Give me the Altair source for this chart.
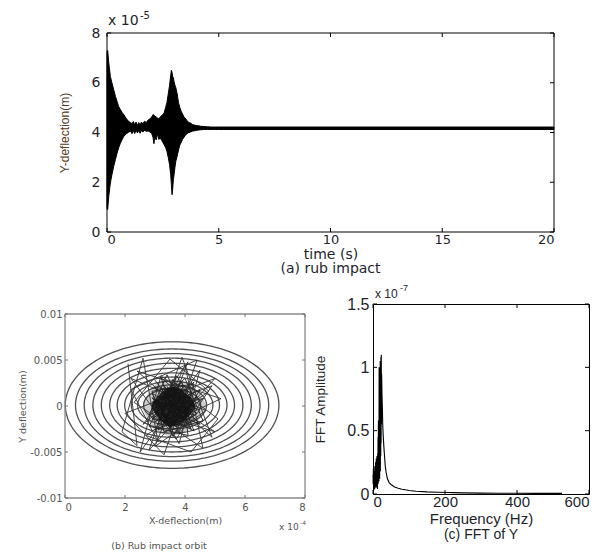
import altair as alt
import numpy as np
import pandas as pd

FONT = "Liberation Sans"
WIDE = "DejaVu Sans"

# ---------------- Panel (a): Y deflection vs time (envelope of dense oscillation, x1e-5 m)
t_env = [0.00, 0.03, 0.08, 0.15, 0.22, 0.30, 0.38, 0.45, 0.52, 0.60, 0.68, 0.75, 0.85, 0.95,
         1.05, 1.12, 1.18, 1.24, 1.30, 1.36, 1.42, 1.48, 1.54, 1.60, 1.68, 1.76, 1.84, 1.92,
         2.00, 2.06, 2.10, 2.14, 2.20, 2.26, 2.32, 2.38, 2.44, 2.50, 2.56, 2.62, 2.68, 2.74,
         2.80, 2.85, 2.88, 2.91, 2.94, 2.97, 3.00, 3.04, 3.08, 3.14, 3.20, 3.26, 3.32, 3.38,
         3.44, 3.50, 3.58, 3.66, 3.74, 3.82, 3.90, 4.00, 4.10, 4.20, 4.35, 4.50, 4.65, 4.80,
         5.00, 20.0]
y_upper = [7.25, 7.30, 6.80, 6.25, 6.00, 5.72, 5.45, 5.25, 5.05, 4.92, 4.80, 4.72, 4.58, 4.46,
           4.40, 4.36, 4.44, 4.30, 4.42, 4.28, 4.40, 4.30, 4.42, 4.35, 4.45, 4.40, 4.50, 4.55,
           4.62, 4.72, 4.70, 4.66, 4.62, 4.58, 4.55, 4.62, 4.68, 4.72, 4.80, 5.00, 5.20, 5.55,
           5.90, 6.30, 6.50, 6.42, 6.25, 6.20, 6.05, 5.90, 5.80, 5.55, 5.20, 5.00, 4.85, 4.75,
           4.62, 4.58, 4.48, 4.40, 4.38, 4.32, 4.30, 4.28, 4.27, 4.25, 4.24, 4.23, 4.22, 4.22,
           4.22, 4.22]
y_lower = [0.95, 0.90, 1.45, 1.97, 2.30, 2.64, 2.92, 3.17, 3.38, 3.57, 3.72, 3.84, 3.94, 4.00,
           4.06, 3.95, 4.08, 3.96, 4.10, 3.98, 4.08, 3.97, 4.08, 4.02, 4.08, 4.05, 4.06, 4.02,
           3.96, 3.80, 3.55, 3.85, 3.70, 3.95, 3.72, 3.78, 3.70, 3.60, 3.50, 3.40, 3.25, 3.00,
           2.70, 2.30, 1.90, 1.50, 1.75, 2.10, 2.30, 2.60, 2.85, 3.05, 3.30, 3.50, 3.60, 3.72,
           3.80, 3.88, 3.95, 4.00, 4.02, 4.05, 4.07, 4.08, 4.10, 4.11, 4.12, 4.12, 4.12, 4.12,
           4.12, 4.12]
a_xticks = [0, 5, 10, 15, 20]
a_yticks = [0, 2, 4, 6, 8]

# ---------------- Panel (b): orbit (X in 1e-4 m, Y in 1e-3 m)
ring_cx = 3.57
ring_cy = 0.10
ring_a = [3.56, 3.22, 2.93, 2.64, 2.36, 2.08, 1.83, 1.58, 1.36, 1.15, 0.95]
ring_b = [6.88, 6.10, 5.60, 5.10, 4.55, 4.00, 3.50, 3.05, 2.60, 2.20, 1.80]
scrib_outer_x = [2.1, 2.4, 1.9, 2.6, 3.1, 2.2, 4.4, 3.3, 2.0, 5.0, 2.8, 3.9, 4.9, 2.4, 5.2, 3.0,
                 4.0, 4.6, 2.3, 3.5, 4.8, 2.7, 4.2, 5.1, 3.2, 2.5, 4.5, 3.8, 2.9, 5.0, 3.4, 4.3,
                 2.6, 4.1, 3.0, 4.7, 2.2, 3.7, 4.9, 3.3]
scrib_outer_y = [4.6, -4.3, -2.8, 5.2, -3.9, 1.8, 5.0, -5.3, -0.8, 3.0, -4.8, 5.3, -3.4, 3.8, 0.8,
                 -2.6, 4.4, -4.6, 0.4, 5.1, 1.6, -3.2, -5.0, -1.4, 3.3, -5.0, 3.9, -4.1, 1.4, -2.8,
                 -1.2, 2.6, -2.0, 4.8, -4.4, -0.5, 3.0, -3.6, 2.2, 0.2]
scrib_inner_x = [3.0, 4.2, 3.4, 2.8, 4.5, 3.6, 3.1, 4.0, 4.6, 3.3, 2.9, 4.3, 3.8, 3.2, 4.4, 3.5,
                 2.8, 4.1, 3.9, 3.0, 4.6, 3.4, 3.7, 4.2, 3.1, 4.0, 3.3, 4.5, 2.9, 3.8, 4.3, 3.2,
                 3.6, 4.1, 3.0, 4.4, 3.5, 3.9, 3.3, 4.2]
scrib_inner_y = [2.8, -2.5, 3.4, -1.0, 1.8, -3.3, 0.5, 3.0, -1.6, -2.8, 1.6, 2.4, -3.0, 3.1, -0.4,
                 2.0, -2.2, -3.2, 2.6, -0.2, 0.8, -1.8, 3.3, 1.2, -2.6, -1.0, 2.2, -2.0, 0.4, 1.5,
                 -2.7, -0.9, 2.9, 0.3, -1.7, 1.0, -2.4, 1.9, 0.9, -0.6]
scrib_mid_x = [3.2, 4.0, 3.0, 3.9, 4.3, 3.1, 3.6, 4.2, 2.9, 3.7, 4.4, 3.3, 3.8, 3.0, 4.1, 3.5,
               3.2, 4.3, 3.4, 3.9, 2.9, 4.0, 3.6, 3.1, 4.2, 3.5, 3.8, 3.3, 4.1, 3.0]
scrib_mid_y = [1.9, -1.5, -0.6, 2.2, 0.4, -2.0, 2.4, -1.9, 0.9, -2.3, -0.8, 1.4, -1.2, 2.0, 1.6,
               -2.5, 0.2, -1.0, 2.1, 0.7, -1.4, -2.2, 1.2, 1.0, 0.9, -0.9, 2.3, -1.8, -0.3, 0.5]
halo_x = [2.6, 2.8, 3.0, 3.3, 3.6, 3.9, 4.2, 4.5, 4.7]
halo_top = [0.3, 1.6, 2.4, 2.9, 3.0, 2.8, 2.2, 1.4, 0.2]
halo_bot = [-0.4, -1.8, -2.7, -3.2, -3.3, -3.0, -2.5, -1.5, -0.3]
blob_x = [2.9, 3.05, 3.2, 3.35, 3.5, 3.65, 3.8, 3.95, 4.1, 4.25, 4.35]
blob_top = [0.2, 0.9, 1.5, 1.8, 2.0, 2.1, 1.9, 1.6, 1.2, 0.6, 0.1]
blob_bot = [-0.3, -1.1, -1.6, -2.0, -2.3, -2.2, -2.0, -1.7, -1.2, -0.7, -0.2]
b_xticks = [0, 2, 4, 6, 8]
b_yticks = [-0.01, -0.005, 0, 0.005, 0.01]

# ---------------- Panel (c): FFT of Y (x1e-7)
fft_f = [0, 0.5, 1, 1.5, 2, 2.5, 3, 3.5, 4, 4.5, 5, 5.5, 6, 6.5, 7, 7.5, 8, 8.5, 9, 9.5, 10,
         10.5, 11, 11.5, 12, 12.5, 13, 13.5, 14, 14.5, 15, 15.5, 16, 16.5, 17, 17.5, 18, 18.5,
         19, 19.5, 20, 20.5, 21, 21.5, 22, 22.5, 23, 23.5, 24, 25, 26, 27, 28, 30, 32, 34, 37,
         40, 45, 50, 55, 60, 70, 80, 90, 100, 120, 150, 180, 210, 222, 250, 300, 350, 400, 450,
         500, 525]
fft_amp = [0.15, 0.08, 0.20, 0.05, 0.12, 0.03, 0.18, 0.06, 0.14, 0.04, 0.22, 0.07, 0.16, 0.05,
           0.25, 0.08, 0.18, 0.06, 0.28, 0.10, 0.22, 0.05, 0.30, 0.12, 0.20, 0.04, 0.32, 0.10,
           0.45, 0.08, 0.58, 0.15, 0.50, 0.10, 1.00, 0.20, 0.75, 0.12, 0.95, 0.25, 1.05, 0.18,
           0.90, 0.30, 1.08, 0.40, 1.10, 0.55, 0.95, 0.78, 0.68, 0.55, 0.48, 0.38, 0.30, 0.22,
           0.16, 0.12, 0.09, 0.075, 0.065, 0.055, 0.045, 0.038, 0.033, 0.028, 0.022, 0.017,
           0.014, 0.012, 0.011, 0.009, 0.007, 0.006, 0.006, 0.005, 0.005, 0.005]
c_xticks = [0, 200, 400, 600]
c_yticks = [0, 0.5, 1, 1.5]

LBL = "#231f2c"
GRY = "#555555"
LEXPR = "'' + datum.value"
one = pd.DataFrame({"k": [0]})


def frame(x0, x1, y0, y1, color, w):
    dv = pd.DataFrame({"x": [x0, x1], "y": [y0, y0], "y2": [y1, y1]})
    dh = pd.DataFrame({"y": [y0, y1], "x": [x0, x0], "x2": [x1, x1]})
    return [
        alt.Chart(dv).mark_rule(color=color, strokeWidth=w).encode(x="x:Q", y="y:Q", y2="y2:Q"),
        alt.Chart(dh).mark_rule(color=color, strokeWidth=w).encode(y="y:Q", x="x:Q", x2="x2:Q"),
    ]


def inner_ticks(xt, yt, xl, xr, yb, yt_px, color, L=4):
    dx = pd.DataFrame({"x": xt})
    dy = pd.DataFrame({"y": yt})
    return [
        alt.Chart(dx).mark_rule(color=color).encode(x="x:Q", y=alt.value(yb), y2=alt.value(yb - L)),
        alt.Chart(dx).mark_rule(color=color).encode(x="x:Q", y=alt.value(yt_px), y2=alt.value(yt_px + L)),
        alt.Chart(dy).mark_rule(color=color).encode(y="y:Q", x=alt.value(xl), x2=alt.value(xl + L)),
        alt.Chart(dy).mark_rule(color=color).encode(y="y:Q", x=alt.value(xr - L), x2=alt.value(xr)),
    ]


def txt(s, x, y, size, color, font=FONT):
    return alt.Chart(one).mark_text(text=s, font=font, fontSize=size, color=color, align="left",
                                    baseline="alphabetic").encode(x=alt.value(x), y=alt.value(y))


# ---- Panel A (group starts at the left edge of panel b; plot region is shifted right)
WA, HA, XA0 = 489, 199, 42
dfa = pd.DataFrame({"x": t_env, "y": y_lower, "y2": y_upper})
a_main = alt.Chart(dfa).mark_area(color="black", stroke="black", strokeWidth=1).encode(
    x=alt.X("x:Q", scale=alt.Scale(domain=[0, 20], range=[XA0, WA], nice=False),
            axis=alt.Axis(values=a_xticks, title="time (s)", ticks=False, domain=False, grid=False,
                          labelFontSize=13, labelColor=LBL, labelFont=WIDE, labelPadding=1,
                          titleFont=WIDE, titleFontSize=14, titleFontWeight="normal", titleColor=LBL,
                          titlePadding=1, titleX=XA0 + (WA - XA0) / 2, labelExpr=LEXPR)),
    y=alt.Y("y:Q", scale=alt.Scale(domain=[0, 8], nice=False),
            axis=alt.Axis(values=a_yticks, title="Y-deflection(m)", ticks=False, domain=False, grid=False,
                          offset=-XA0,
                          labelFontSize=14, labelColor=LBL, labelFont=WIDE, labelPadding=7,
                          titleFont=FONT, titleFontSize=12, titleFontWeight="normal", titleColor="#5a3a22",
                          titlePadding=20, labelExpr=LEXPR)),
    y2="y2:Q",
)
A = alt.layer(a_main, *frame(0, 20, 0, 8, "black", 1),
              *inner_ticks(a_xticks, a_yticks, XA0, WA, HA, 0, "black"),
              txt("x 10", XA0 + 1, -8, 14, LBL, WIDE), txt("-5", XA0 + 33, -14, 10, LBL, WIDE)).properties(
    width=WA, height=HA,
    title=alt.TitleParams("(a) rub impact", orient="bottom", font=WIDE, fontSize=14, fontWeight="normal",
                          color=LBL, offset=1, dx=XA0 / 2),
    view=alt.ViewBackground(stroke="transparent"),
)

# ---- Panel B (plot region starts 10 px below the group top)
WB, HB, YB0 = 240, 194, 10
theta = np.linspace(0, 2 * np.pi, 181)
rows = []
for i, (ra, rb) in enumerate(zip(ring_a, ring_b)):
    for j, th in enumerate(theta):
        rows.append({"ring": i, "o": j, "x": ring_cx + ra * np.cos(th), "y": (ring_cy + rb * np.sin(th)) / 1000})
dfr = pd.DataFrame(rows)
xsb = alt.Scale(domain=[0, 8], nice=False)
ysb = alt.Scale(domain=[-0.01, 0.01], range=[HB, YB0], nice=False)
b_rings = alt.Chart(dfr).mark_line(color="#505050", strokeWidth=1.3).encode(
    x=alt.X("x:Q", scale=xsb,
            axis=alt.Axis(values=b_xticks, title="X-deflection(m)", ticks=False, domain=False, grid=False,
                          labelFontSize=10, labelColor=GRY, labelFont=WIDE, labelPadding=4,
                          titleFont=WIDE, titleFontSize=9.5, titleFontWeight="normal", titleColor=GRY,
                          titlePadding=3, labelExpr=LEXPR)),
    y=alt.Y("y:Q", scale=ysb,
            axis=alt.Axis(values=b_yticks, title="Y deflection(m)", ticks=False, domain=False, grid=False,
                          labelFontSize=10, labelColor=GRY, labelFont=WIDE, labelPadding=3,
                          titleFont=WIDE, titleFontSize=9.5, titleFontWeight="normal", titleColor=GRY,
                          titlePadding=2, titleY=YB0 + (HB - YB0) / 2, labelExpr=LEXPR)),
    detail="ring:N", order="o:Q",
)


def scrib(xs, ys, color, w):
    d = pd.DataFrame({"x": xs, "y": [v / 1000 for v in ys], "o": range(len(xs))})
    return alt.Chart(d).mark_line(color=color, strokeWidth=w).encode(x="x:Q", y="y:Q", order="o:Q")


dha = pd.DataFrame({"x": halo_x, "y": [v / 1000 for v in halo_bot], "y2": [v / 1000 for v in halo_top]})
b_halo = alt.Chart(dha).mark_area(color="#222", opacity=0.22, interpolate="basis").encode(x="x:Q", y="y:Q", y2="y2:Q")
dbl = pd.DataFrame({"x": blob_x, "y": [v / 1000 for v in blob_bot], "y2": [v / 1000 for v in blob_top]})
b_blob = alt.Chart(dbl).mark_area(color="#111", opacity=0.88, interpolate="basis").encode(x="x:Q", y="y:Q", y2="y2:Q")
B = alt.layer(b_rings, b_halo, scrib(scrib_outer_x, scrib_outer_y, "#333", 0.9),
              scrib(scrib_inner_x, scrib_inner_y, "#222", 0.9), scrib(scrib_mid_x, scrib_mid_y, "#222", 0.9),
              b_blob, *frame(0, 8, -0.01, 0.01, "#8a8a8a", 1.3),
              *inner_ticks(b_xticks, b_yticks, 0, WB, HB, YB0, "#777", 3),
              txt("x 10", WB - 26, HB + 32, 9, GRY, WIDE), txt("-4", WB - 5, HB + 27, 6, GRY, WIDE)).properties(
    width=WB, height=HB,
    title=alt.TitleParams("(b) Rub impact orbit", orient="bottom", font=WIDE, fontSize=9.5, fontWeight="normal",
                          color=GRY, offset=9, dx=-26),
    view=alt.ViewBackground(stroke="transparent"),
)

# ---- Panel C
WC, HC = 216, 190
dfc = pd.DataFrame({"x": fft_f, "y": fft_amp})
c_main = alt.Chart(dfc).mark_line(color="black", strokeWidth=1.1).encode(
    x=alt.X("x:Q", scale=alt.Scale(domain=[0, 600], nice=False),
            axis=alt.Axis(values=c_xticks, title="Frequency (Hz)", ticks=False, domain=False, grid=False,
                          labelFontSize=15, labelColor=LBL, labelFont=FONT, labelPadding=0,
                          titleFont=FONT, titleFontSize=15, titleFontWeight="normal", titleColor=LBL,
                          titlePadding=2, labelExpr=LEXPR)),
    y=alt.Y("y:Q", scale=alt.Scale(domain=[0, 1.5], nice=False),
            axis=alt.Axis(values=c_yticks, title="FFT Amplitude", ticks=False, domain=False, grid=False,
                          labelFontSize=16, labelColor=LBL, labelFont=FONT, labelPadding=4,
                          titleFont=FONT, titleFontSize=13.5, titleFontWeight="normal", titleColor=LBL,
                          titlePadding=19, labelExpr=LEXPR)),
)
C = alt.layer(c_main, *inner_ticks(c_xticks, c_yticks, 0, WC, HC, 0, "black"),
              txt("x 10", 2, -6, 12, LBL), txt("-7", 27, -13, 9, LBL)).properties(
    width=WC, height=HC,
    title=alt.TitleParams("(c) FFT of Y", orient="bottom", font=FONT, fontSize=14, fontWeight="normal",
                          color=LBL, offset=2),
    view=alt.ViewBackground(stroke="black", strokeWidth=1),
)

bottom = alt.hconcat(B, C, spacing=6)
chart = alt.vconcat(A, bottom, spacing=6).configure(
    padding={"left": 9, "top": 2, "right": 0, "bottom": 0}).configure_view(fill="white")
chart.save("out.html", embed_options={"renderer": "svg", "actions": False})
